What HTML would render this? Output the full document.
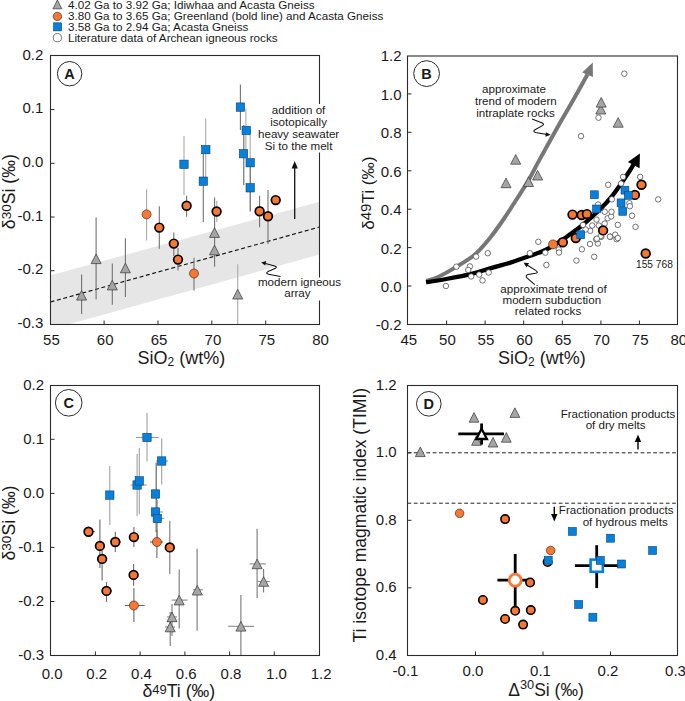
<!DOCTYPE html><html><head><meta charset="utf-8"><style>html,body{margin:0;padding:0;background:#fff;width:685px;height:701px;overflow:hidden}svg{display:block}text{font-family:"Liberation Sans",sans-serif;fill:#1a1a1a}</style></head><body>
<svg width="685" height="701" viewBox="0 0 685 701">
<polygon points="57.4,0.0 61.8,8.8 53.0,8.8" fill="#a5a5a5" stroke="#3c3c3c" stroke-width="0.75" stroke-linejoin="miter"/>
<circle cx="57.4" cy="16.4" r="4.2" fill="#F77733" stroke="#3a2418" stroke-width="0.65"/>
<rect x="53.5" y="22.8" width="8.1" height="8.1" fill="#0580DC" stroke="#0c3d66" stroke-width="0.55"/>
<circle cx="57.4" cy="37.7" r="4.1" fill="#fff" stroke="#3a3a3a" stroke-width="0.7"/>
<text x="68.0" y="8.8" font-size="11.68" text-anchor="start" >4.02 Ga to 3.92 Ga; Idiwhaa and Acasta Gneiss</text>
<text x="68.0" y="19.9" font-size="11.68" text-anchor="start" >3.80 Ga to 3.65 Ga; Greenland (bold line) and Acasta Gneiss</text>
<text x="68.0" y="30.9" font-size="11.68" text-anchor="start" >3.58 Ga to 2.94 Ga; Acasta Gneiss</text>
<text x="68.0" y="41.8" font-size="11.68" text-anchor="start" >Literature data of Archean igneous rocks</text>
<polygon points="50,275.5 319.5,201.8 319.5,254.5 68,324.5 50,324.5" fill="#e6e6e6"/>
<line x1="50.5" y1="302" x2="319.5" y2="227" stroke="#111" stroke-width="1.15" stroke-dasharray="4 2.6"/>
<line x1="81.6" y1="274.6" x2="81.6" y2="314.0" stroke="#727272" stroke-width="1.1"/>
<line x1="96.1" y1="217.3" x2="96.1" y2="299.5" stroke="#727272" stroke-width="1.1"/>
<line x1="112.3" y1="263.6" x2="112.3" y2="304.8" stroke="#727272" stroke-width="1.1"/>
<line x1="125.4" y1="238.3" x2="125.4" y2="296.9" stroke="#727272" stroke-width="1.1"/>
<line x1="214.6" y1="197.5" x2="214.6" y2="266.7" stroke="#727272" stroke-width="1.1"/>
<line x1="237.7" y1="264.3" x2="237.7" y2="324.0" stroke="#aaa" stroke-width="1.1"/>
<line x1="146.6" y1="189.2" x2="146.6" y2="240.4" stroke="#aaa" stroke-width="1.1"/>
<line x1="194.0" y1="257.8" x2="194.0" y2="290.4" stroke="#727272" stroke-width="1.1"/>
<line x1="159.3" y1="206.3" x2="159.3" y2="248.8" stroke="#727272" stroke-width="1.1"/>
<line x1="173.8" y1="232.5" x2="173.8" y2="256.0" stroke="#727272" stroke-width="1.1"/>
<line x1="178.0" y1="248.0" x2="178.0" y2="270.6" stroke="#727272" stroke-width="1.1"/>
<line x1="186.6" y1="195.8" x2="186.6" y2="216.8" stroke="#727272" stroke-width="1.1"/>
<line x1="216.8" y1="200.7" x2="216.8" y2="222.0" stroke="#aaa" stroke-width="1.1"/>
<line x1="259.6" y1="195.8" x2="259.6" y2="227.3" stroke="#727272" stroke-width="1.1"/>
<line x1="268.0" y1="190.0" x2="268.0" y2="244.0" stroke="#727272" stroke-width="1.1"/>
<line x1="184.0" y1="136.0" x2="184.0" y2="195.0" stroke="#aaa" stroke-width="1.1"/>
<line x1="205.7" y1="118.6" x2="205.7" y2="183.0" stroke="#aaa" stroke-width="1.1"/>
<line x1="203.3" y1="150.0" x2="203.3" y2="222.0" stroke="#727272" stroke-width="1.1"/>
<line x1="240.4" y1="84.5" x2="240.4" y2="130.0" stroke="#727272" stroke-width="1.1"/>
<line x1="245.9" y1="108.5" x2="245.9" y2="150.0" stroke="#aaa" stroke-width="1.1"/>
<line x1="243.8" y1="125.0" x2="243.8" y2="185.0" stroke="#666" stroke-width="1.1"/>
<line x1="250.2" y1="128.7" x2="250.2" y2="160.0" stroke="#aaa" stroke-width="1.1"/>
<line x1="250.2" y1="166.0" x2="250.2" y2="211.5" stroke="#555" stroke-width="1.1"/>
<polygon points="81.6,290.5 86.6,300.1 76.6,300.1" fill="#a5a5a5" stroke="#3c3c3c" stroke-width="0.75" stroke-linejoin="miter"/>
<polygon points="96.1,254.0 101.1,263.6 91.1,263.6" fill="#a5a5a5" stroke="#3c3c3c" stroke-width="0.75" stroke-linejoin="miter"/>
<polygon points="112.3,280.3 117.3,289.9 107.3,289.9" fill="#a5a5a5" stroke="#3c3c3c" stroke-width="0.75" stroke-linejoin="miter"/>
<polygon points="125.4,263.2 130.4,272.8 120.4,272.8" fill="#a5a5a5" stroke="#3c3c3c" stroke-width="0.75" stroke-linejoin="miter"/>
<polygon points="214.5,227.8 219.5,237.4 209.5,237.4" fill="#a5a5a5" stroke="#3c3c3c" stroke-width="0.75" stroke-linejoin="miter"/>
<polygon points="214.5,245.3 219.5,254.9 209.5,254.9" fill="#a5a5a5" stroke="#3c3c3c" stroke-width="0.75" stroke-linejoin="miter"/>
<polygon points="237.7,289.4 242.7,299.0 232.7,299.0" fill="#a5a5a5" stroke="#3c3c3c" stroke-width="0.75" stroke-linejoin="miter"/>
<circle cx="146.6" cy="214.4" r="4.5" fill="#F77733" stroke="#3a2418" stroke-width="0.65"/>
<circle cx="194.0" cy="273.5" r="4.5" fill="#F77733" stroke="#3a2418" stroke-width="0.65"/>
<circle cx="159.3" cy="227.6" r="4.35" fill="#F77733" stroke="#000" stroke-width="1.7"/>
<circle cx="173.8" cy="243.6" r="4.35" fill="#F77733" stroke="#000" stroke-width="1.7"/>
<circle cx="178.0" cy="259.6" r="4.35" fill="#F77733" stroke="#000" stroke-width="1.7"/>
<circle cx="186.6" cy="205.7" r="4.35" fill="#F77733" stroke="#000" stroke-width="1.7"/>
<circle cx="216.6" cy="211.5" r="4.35" fill="#F77733" stroke="#000" stroke-width="1.7"/>
<circle cx="259.6" cy="211.2" r="4.35" fill="#F77733" stroke="#000" stroke-width="1.7"/>
<circle cx="268.0" cy="216.3" r="4.35" fill="#F77733" stroke="#000" stroke-width="1.7"/>
<circle cx="275.7" cy="200.1" r="4.35" fill="#F77733" stroke="#000" stroke-width="1.7"/>
<rect x="179.8" y="160.1" width="8.4" height="8.4" fill="#0580DC" stroke="#0c3d66" stroke-width="0.55"/>
<rect x="201.6" y="145.4" width="8.4" height="8.4" fill="#0580DC" stroke="#0c3d66" stroke-width="0.55"/>
<rect x="199.1" y="177.0" width="8.4" height="8.4" fill="#0580DC" stroke="#0c3d66" stroke-width="0.55"/>
<rect x="236.2" y="102.9" width="8.4" height="8.4" fill="#0580DC" stroke="#0c3d66" stroke-width="0.55"/>
<rect x="242.0" y="126.2" width="8.4" height="8.4" fill="#0580DC" stroke="#0c3d66" stroke-width="0.55"/>
<rect x="239.3" y="149.5" width="8.4" height="8.4" fill="#0580DC" stroke="#0c3d66" stroke-width="0.55"/>
<rect x="246.0" y="158.5" width="8.4" height="8.4" fill="#0580DC" stroke="#0c3d66" stroke-width="0.55"/>
<rect x="246.0" y="183.6" width="8.4" height="8.4" fill="#0580DC" stroke="#0c3d66" stroke-width="0.55"/>
<path d="M264.5,263.3 L274.8,265.9 Q277.5,267 275.5,268.2 L268,271.6 Q265,273.5 268.5,274.2 L280.5,276.6" fill="none" stroke="#111" stroke-width="1.05" stroke-linejoin="round"/>
<polygon points="261.2,262.4 266.2,260.9 265.2,265.6" fill="#111"/>
<line x1="294.7" y1="166" x2="294.7" y2="219" stroke="#111" stroke-width="1.3"/>
<polygon points="294.7,161 291.6,168.5 297.8,168.5" fill="#111"/>
<rect x="50.5" y="55.5" width="269.0" height="269.0" fill="none" stroke="#2b2b2b" stroke-width="1.1"/>
<rect x="257" y="104" width="84" height="48.5" fill="#fff"/>
<rect x="257" y="277.5" width="85" height="23" fill="#fff"/>
<text x="298.6" y="113.9" font-size="11.6" text-anchor="middle" >addition of</text>
<text x="298.6" y="125.8" font-size="11.6" text-anchor="middle" >isotopically</text>
<text x="298.6" y="137.7" font-size="11.6" text-anchor="middle" >heavy seawater</text>
<text x="298.6" y="149.6" font-size="11.6" text-anchor="middle" >Si to the melt</text>
<text x="299.5" y="286.2" font-size="11.6" text-anchor="middle" >modern igneous</text>
<text x="297.4" y="297.4" font-size="11.6" text-anchor="middle" >array</text>
<line x1="50.5" y1="109.6" x2="54.5" y2="109.6" stroke="#2b2b2b" stroke-width="1"/>
<line x1="50.5" y1="163.3" x2="54.5" y2="163.3" stroke="#2b2b2b" stroke-width="1"/>
<line x1="50.5" y1="217.0" x2="54.5" y2="217.0" stroke="#2b2b2b" stroke-width="1"/>
<line x1="50.5" y1="270.7" x2="54.5" y2="270.7" stroke="#2b2b2b" stroke-width="1"/>
<line x1="104.1" y1="324.5" x2="104.1" y2="320.5" stroke="#2b2b2b" stroke-width="1"/>
<line x1="158.0" y1="324.5" x2="158.0" y2="320.5" stroke="#2b2b2b" stroke-width="1"/>
<line x1="211.8" y1="324.5" x2="211.8" y2="320.5" stroke="#2b2b2b" stroke-width="1"/>
<line x1="265.7" y1="324.5" x2="265.7" y2="320.5" stroke="#2b2b2b" stroke-width="1"/>
<text x="43.4" y="59.5" font-size="15" text-anchor="end" >0.2</text>
<text x="43.4" y="113.2" font-size="15" text-anchor="end" >0.1</text>
<text x="43.4" y="166.9" font-size="15" text-anchor="end" >0.0</text>
<text x="43.4" y="220.6" font-size="15" text-anchor="end" >-0.1</text>
<text x="43.4" y="274.3" font-size="15" text-anchor="end" >-0.2</text>
<text x="43.4" y="328.0" font-size="15" text-anchor="end" >-0.3</text>
<text x="51.4" y="345.0" font-size="15" text-anchor="middle" >55</text>
<text x="105.2" y="345.0" font-size="15" text-anchor="middle" >60</text>
<text x="159.1" y="345.0" font-size="15" text-anchor="middle" >65</text>
<text x="212.9" y="345.0" font-size="15" text-anchor="middle" >70</text>
<text x="266.8" y="345.0" font-size="15" text-anchor="middle" >75</text>
<text x="320.6" y="345.0" font-size="15" text-anchor="middle" >80</text>
<circle cx="69.6" cy="73.7" r="12.2" fill="#fff" stroke="#2b2b2b" stroke-width="1"/>
<text x="69.6" y="78.6" font-size="14.5" text-anchor="middle" font-weight="bold">A</text>
<text x="181.4" y="364.0" font-size="18" text-anchor="middle" >SiO<tspan font-size="12" dy="1.8">2</tspan><tspan dy="-1.8"> (wt%)</tspan></text>
<text transform="translate(15,191.7) rotate(-90)" font-size="17.7" text-anchor="middle">δ<tspan font-size="13.5" dy="-4">30</tspan><tspan dy="4">Si (‰)</tspan></text>
<path d="M426.5,281.0 C428.3,280.4 432.8,279.4 437.5,277.2 C442.2,275.0 448.9,271.3 455.0,267.6 C461.1,263.9 468.4,260.0 474.3,255.0 C480.2,250.0 485.1,243.9 490.1,237.8 C495.1,231.7 499.7,224.9 504.1,218.5 C508.5,212.1 512.7,205.5 516.6,199.3 C520.5,193.1 523.9,188.2 527.8,181.5 C531.7,174.8 535.2,167.6 540.0,158.9 C544.8,150.2 550.9,139.1 556.3,129.5 C561.7,119.9 567.7,109.7 572.4,101.4 C577.1,93.2 581.9,84.5 584.4,80.0 C586.9,75.5 587.0,75.4 587.5,74.5" fill="none" stroke="#777" stroke-width="4"/>
<polygon points="592.8,62.6 582.2,72.4 592.9,77.1" fill="#777"/>
<path d="M426.0,282.2 C429.4,281.7 438.5,280.4 446.3,279.0 C454.1,277.6 465.3,275.5 472.6,273.7 C479.9,271.9 483.7,270.2 490.0,268.4 C496.3,266.5 503.7,264.7 510.4,262.6 C517.1,260.5 524.2,257.9 530.0,255.8 C535.8,253.7 540.2,252.5 545.3,250.0 C550.4,247.5 556.4,243.7 560.7,241.0 C565.0,238.3 567.5,236.2 570.9,233.7 C574.3,231.2 577.7,228.9 581.1,226.2 C584.5,223.5 588.1,220.3 591.3,217.4 C594.5,214.5 597.1,212.2 600.5,208.8 C603.9,205.4 608.1,201.0 611.5,196.8 C614.9,192.6 618.1,187.9 621.1,183.6 C624.1,179.3 627.5,174.2 629.6,171.0 C631.7,167.8 632.9,165.6 633.5,164.5" fill="none" stroke="#000" stroke-width="4.3"/>
<polygon points="639.9,153.5 627.9,162.1 639.6,168.3" fill="#000"/>
<circle cx="445.9" cy="286.0" r="2.75" fill="#fff" stroke="#3a3a3a" stroke-width="0.7"/>
<circle cx="456.4" cy="266.7" r="2.75" fill="#fff" stroke="#3a3a3a" stroke-width="0.7"/>
<circle cx="469.9" cy="266.4" r="2.75" fill="#fff" stroke="#3a3a3a" stroke-width="0.7"/>
<circle cx="468.2" cy="269.9" r="2.75" fill="#fff" stroke="#3a3a3a" stroke-width="0.7"/>
<circle cx="471.2" cy="276.4" r="2.75" fill="#fff" stroke="#3a3a3a" stroke-width="0.7"/>
<circle cx="476.1" cy="256.6" r="2.75" fill="#fff" stroke="#3a3a3a" stroke-width="0.7"/>
<circle cx="479.2" cy="274.6" r="2.75" fill="#fff" stroke="#3a3a3a" stroke-width="0.7"/>
<circle cx="482.5" cy="280.4" r="2.75" fill="#fff" stroke="#3a3a3a" stroke-width="0.7"/>
<circle cx="488.7" cy="272.5" r="2.75" fill="#fff" stroke="#3a3a3a" stroke-width="0.7"/>
<circle cx="487.8" cy="253.2" r="2.75" fill="#fff" stroke="#3a3a3a" stroke-width="0.7"/>
<circle cx="529.8" cy="253.2" r="2.75" fill="#fff" stroke="#3a3a3a" stroke-width="0.7"/>
<circle cx="538.3" cy="241.8" r="2.75" fill="#fff" stroke="#3a3a3a" stroke-width="0.7"/>
<circle cx="545.3" cy="252.7" r="2.75" fill="#fff" stroke="#3a3a3a" stroke-width="0.7"/>
<circle cx="546.4" cy="265.0" r="2.75" fill="#fff" stroke="#3a3a3a" stroke-width="0.7"/>
<circle cx="558.8" cy="249.5" r="2.75" fill="#fff" stroke="#3a3a3a" stroke-width="0.7"/>
<circle cx="559.0" cy="252.5" r="2.75" fill="#fff" stroke="#3a3a3a" stroke-width="0.7"/>
<circle cx="576.4" cy="260.6" r="2.75" fill="#fff" stroke="#3a3a3a" stroke-width="0.7"/>
<circle cx="581.9" cy="249.3" r="2.75" fill="#fff" stroke="#3a3a3a" stroke-width="0.7"/>
<circle cx="594.2" cy="256.8" r="2.75" fill="#fff" stroke="#3a3a3a" stroke-width="0.7"/>
<circle cx="590.0" cy="244.0" r="2.75" fill="#fff" stroke="#3a3a3a" stroke-width="0.7"/>
<circle cx="597.8" cy="243.5" r="2.75" fill="#fff" stroke="#3a3a3a" stroke-width="0.7"/>
<circle cx="596.2" cy="239.4" r="2.75" fill="#fff" stroke="#3a3a3a" stroke-width="0.7"/>
<circle cx="601.3" cy="236.8" r="2.75" fill="#fff" stroke="#3a3a3a" stroke-width="0.7"/>
<circle cx="610.5" cy="236.8" r="2.75" fill="#fff" stroke="#3a3a3a" stroke-width="0.7"/>
<circle cx="616.6" cy="239.2" r="2.75" fill="#fff" stroke="#3a3a3a" stroke-width="0.7"/>
<circle cx="615.2" cy="234.7" r="2.75" fill="#fff" stroke="#3a3a3a" stroke-width="0.7"/>
<circle cx="617.8" cy="238.0" r="2.75" fill="#fff" stroke="#3a3a3a" stroke-width="0.7"/>
<circle cx="609.9" cy="236.7" r="2.75" fill="#fff" stroke="#3a3a3a" stroke-width="0.7"/>
<circle cx="600.7" cy="236.1" r="2.75" fill="#fff" stroke="#3a3a3a" stroke-width="0.7"/>
<circle cx="596.8" cy="238.7" r="2.75" fill="#fff" stroke="#3a3a3a" stroke-width="0.7"/>
<circle cx="590.2" cy="230.8" r="2.75" fill="#fff" stroke="#3a3a3a" stroke-width="0.7"/>
<circle cx="585.6" cy="229.5" r="2.75" fill="#fff" stroke="#3a3a3a" stroke-width="0.7"/>
<circle cx="592.2" cy="225.5" r="2.75" fill="#fff" stroke="#3a3a3a" stroke-width="0.7"/>
<circle cx="598.8" cy="225.5" r="2.75" fill="#fff" stroke="#3a3a3a" stroke-width="0.7"/>
<circle cx="604.7" cy="223.6" r="2.75" fill="#fff" stroke="#3a3a3a" stroke-width="0.7"/>
<circle cx="583.0" cy="224.9" r="2.75" fill="#fff" stroke="#3a3a3a" stroke-width="0.7"/>
<circle cx="617.8" cy="224.9" r="2.75" fill="#fff" stroke="#3a3a3a" stroke-width="0.7"/>
<circle cx="635.5" cy="226.9" r="2.75" fill="#fff" stroke="#3a3a3a" stroke-width="0.7"/>
<circle cx="596.5" cy="219.6" r="2.75" fill="#fff" stroke="#3a3a3a" stroke-width="0.7"/>
<circle cx="607.6" cy="218.3" r="2.75" fill="#fff" stroke="#3a3a3a" stroke-width="0.7"/>
<circle cx="611.2" cy="216.4" r="2.75" fill="#fff" stroke="#3a3a3a" stroke-width="0.7"/>
<circle cx="604.7" cy="211.8" r="2.75" fill="#fff" stroke="#3a3a3a" stroke-width="0.7"/>
<circle cx="611.5" cy="211.8" r="2.75" fill="#fff" stroke="#3a3a3a" stroke-width="0.7"/>
<circle cx="632.0" cy="215.7" r="2.75" fill="#fff" stroke="#3a3a3a" stroke-width="0.7"/>
<circle cx="598.1" cy="204.5" r="2.75" fill="#fff" stroke="#3a3a3a" stroke-width="0.7"/>
<circle cx="629.4" cy="203.2" r="2.75" fill="#fff" stroke="#3a3a3a" stroke-width="0.7"/>
<circle cx="629.9" cy="206.2" r="2.75" fill="#fff" stroke="#3a3a3a" stroke-width="0.7"/>
<circle cx="611.9" cy="199.3" r="2.75" fill="#fff" stroke="#3a3a3a" stroke-width="0.7"/>
<circle cx="658.2" cy="199.4" r="2.75" fill="#fff" stroke="#3a3a3a" stroke-width="0.7"/>
<circle cx="608.2" cy="184.8" r="2.75" fill="#fff" stroke="#3a3a3a" stroke-width="0.7"/>
<circle cx="621.1" cy="183.5" r="2.75" fill="#fff" stroke="#3a3a3a" stroke-width="0.7"/>
<circle cx="623.1" cy="176.9" r="2.75" fill="#fff" stroke="#3a3a3a" stroke-width="0.7"/>
<circle cx="640.1" cy="176.9" r="2.75" fill="#fff" stroke="#3a3a3a" stroke-width="0.7"/>
<circle cx="624.3" cy="73.7" r="2.75" fill="#fff" stroke="#3a3a3a" stroke-width="0.7"/>
<circle cx="598.5" cy="117.7" r="2.75" fill="#fff" stroke="#3a3a3a" stroke-width="0.7"/>
<circle cx="581.0" cy="136.1" r="2.75" fill="#fff" stroke="#3a3a3a" stroke-width="0.7"/>
<polygon points="515.7,154.6 520.7,164.2 510.7,164.2" fill="#a5a5a5" stroke="#3c3c3c" stroke-width="0.75" stroke-linejoin="miter"/>
<polygon points="506.0,178.1 511.0,187.7 501.0,187.7" fill="#a5a5a5" stroke="#3c3c3c" stroke-width="0.75" stroke-linejoin="miter"/>
<polygon points="528.5,176.9 533.5,186.5 523.5,186.5" fill="#a5a5a5" stroke="#3c3c3c" stroke-width="0.75" stroke-linejoin="miter"/>
<polygon points="537.6,170.4 542.6,180.0 532.6,180.0" fill="#a5a5a5" stroke="#3c3c3c" stroke-width="0.75" stroke-linejoin="miter"/>
<polygon points="600.8,104.4 605.8,114.0 595.8,114.0" fill="#a5a5a5" stroke="#3c3c3c" stroke-width="0.75" stroke-linejoin="miter"/>
<polygon points="601.2,97.5 606.2,107.1 596.2,107.1" fill="#a5a5a5" stroke="#3c3c3c" stroke-width="0.75" stroke-linejoin="miter"/>
<polygon points="618.2,117.6 623.2,127.2 613.2,127.2" fill="#a5a5a5" stroke="#3c3c3c" stroke-width="0.75" stroke-linejoin="miter"/>
<circle cx="553.0" cy="244.4" r="4.5" fill="#F77733" stroke="#3a2418" stroke-width="0.65"/>
<circle cx="562.8" cy="242.2" r="4.35" fill="#F77733" stroke="#000" stroke-width="1.7"/>
<circle cx="575.8" cy="238.1" r="4.35" fill="#F77733" stroke="#000" stroke-width="1.7"/>
<circle cx="572.5" cy="214.6" r="4.35" fill="#F77733" stroke="#000" stroke-width="1.7"/>
<circle cx="581.7" cy="215.0" r="4.35" fill="#F77733" stroke="#000" stroke-width="1.7"/>
<circle cx="586.9" cy="214.1" r="4.35" fill="#F77733" stroke="#000" stroke-width="1.7"/>
<circle cx="641.5" cy="184.8" r="4.35" fill="#F77733" stroke="#000" stroke-width="1.7"/>
<circle cx="634.9" cy="194.9" r="4.35" fill="#F77733" stroke="#000" stroke-width="1.7"/>
<circle cx="603.1" cy="230.4" r="4.35" fill="#F77733" stroke="#000" stroke-width="1.7"/>
<circle cx="645.7" cy="253.5" r="4.35" fill="#F77733" stroke="#000" stroke-width="1.7"/>
<rect x="590.4" y="190.8" width="7.9" height="7.9" fill="#0580DC" stroke="#0c3d66" stroke-width="0.55"/>
<rect x="592.5" y="205.0" width="7.9" height="7.9" fill="#0580DC" stroke="#0c3d66" stroke-width="0.55"/>
<rect x="621.0" y="186.2" width="7.9" height="7.9" fill="#0580DC" stroke="#0c3d66" stroke-width="0.55"/>
<rect x="624.3" y="191.4" width="7.9" height="7.9" fill="#0580DC" stroke="#0c3d66" stroke-width="0.55"/>
<rect x="617.1" y="198.9" width="7.9" height="7.9" fill="#0580DC" stroke="#0c3d66" stroke-width="0.55"/>
<rect x="618.8" y="207.4" width="7.9" height="7.9" fill="#0580DC" stroke="#0c3d66" stroke-width="0.55"/>
<rect x="576.8" y="230.8" width="7.9" height="7.9" fill="#0580DC" stroke="#0c3d66" stroke-width="0.55"/>
<text x="654.4" y="268.3" font-size="10.2" text-anchor="middle" >155 768</text>
<path d="M532,119.1 L542.3,123 Q544.6,124.3 542.4,125.6 L535,129.8 Q532.3,131.6 535.6,132.4 L547,134.4" fill="none" stroke="#111" stroke-width="1.05" stroke-linejoin="round"/>
<polygon points="550.6,134.7 545.9,132.2 545.4,136.8" fill="#111"/>
<path d="M526,264.3 L536,270.6 Q538.8,272.6 535.6,273.3 L528,274.6 Q524.8,275.6 527.2,278.2 L534.8,284.6" fill="none" stroke="#111" stroke-width="1.05" stroke-linejoin="round"/>
<polygon points="523.6,262.8 529,263.1 526.6,267.6" fill="#111"/>
<text x="514.0" y="93.1" font-size="11.6" text-anchor="middle" >approximate</text>
<text x="515.9" y="104.8" font-size="11.6" text-anchor="middle" >trend of modern</text>
<text x="515.5" y="116.5" font-size="11.6" text-anchor="middle" >intraplate rocks</text>
<text x="553.5" y="292.8" font-size="11.6" text-anchor="middle" >approximate trend of</text>
<text x="551.8" y="304.1" font-size="11.6" text-anchor="middle" >modern subduction</text>
<text x="548.0" y="315.4" font-size="11.6" text-anchor="middle" >related rocks</text>
<rect x="407.5" y="56" width="270.0" height="268.5" fill="none" stroke="#2b2b2b" stroke-width="1.1"/>
<line x1="407.5" y1="93.9" x2="411.5" y2="93.9" stroke="#2b2b2b" stroke-width="1"/>
<line x1="407.5" y1="132.3" x2="411.5" y2="132.3" stroke="#2b2b2b" stroke-width="1"/>
<line x1="407.5" y1="170.8" x2="411.5" y2="170.8" stroke="#2b2b2b" stroke-width="1"/>
<line x1="407.5" y1="209.2" x2="411.5" y2="209.2" stroke="#2b2b2b" stroke-width="1"/>
<line x1="407.5" y1="247.6" x2="411.5" y2="247.6" stroke="#2b2b2b" stroke-width="1"/>
<line x1="407.5" y1="286.0" x2="411.5" y2="286.0" stroke="#2b2b2b" stroke-width="1"/>
<line x1="446.6" y1="324.5" x2="446.6" y2="320.5" stroke="#2b2b2b" stroke-width="1"/>
<line x1="485.1" y1="324.5" x2="485.1" y2="320.5" stroke="#2b2b2b" stroke-width="1"/>
<line x1="523.7" y1="324.5" x2="523.7" y2="320.5" stroke="#2b2b2b" stroke-width="1"/>
<line x1="562.3" y1="324.5" x2="562.3" y2="320.5" stroke="#2b2b2b" stroke-width="1"/>
<line x1="600.9" y1="324.5" x2="600.9" y2="320.5" stroke="#2b2b2b" stroke-width="1"/>
<line x1="639.4" y1="324.5" x2="639.4" y2="320.5" stroke="#2b2b2b" stroke-width="1"/>
<text x="401.6" y="61.4" font-size="15" text-anchor="end" >1.2</text>
<text x="401.6" y="99.8" font-size="15" text-anchor="end" >1.0</text>
<text x="401.6" y="138.2" font-size="15" text-anchor="end" >0.8</text>
<text x="401.6" y="176.7" font-size="15" text-anchor="end" >0.6</text>
<text x="401.6" y="215.1" font-size="15" text-anchor="end" >0.4</text>
<text x="401.6" y="253.5" font-size="15" text-anchor="end" >0.2</text>
<text x="401.6" y="291.9" font-size="15" text-anchor="end" >0.0</text>
<text x="401.6" y="330.3" font-size="15" text-anchor="end" >-0.2</text>
<text x="408.8" y="345.0" font-size="15" text-anchor="middle" >45</text>
<text x="447.4" y="345.0" font-size="15" text-anchor="middle" >50</text>
<text x="485.9" y="345.0" font-size="15" text-anchor="middle" >55</text>
<text x="524.5" y="345.0" font-size="15" text-anchor="middle" >60</text>
<text x="563.1" y="345.0" font-size="15" text-anchor="middle" >65</text>
<text x="601.6" y="345.0" font-size="15" text-anchor="middle" >70</text>
<text x="640.2" y="345.0" font-size="15" text-anchor="middle" >75</text>
<text x="678.8" y="345.0" font-size="15" text-anchor="middle" >80</text>
<circle cx="426.6" cy="73.6" r="12.9" fill="#fff" stroke="#2b2b2b" stroke-width="1"/>
<text x="426.6" y="78.5" font-size="14.5" text-anchor="middle" font-weight="bold">B</text>
<text x="541.8" y="364.0" font-size="18" text-anchor="middle" >SiO<tspan font-size="12" dy="1.8">2</tspan><tspan dy="-1.8"> (wt%)</tspan></text>
<text transform="translate(374.2,193.2) rotate(-90)" font-size="17.2" text-anchor="middle">δ<tspan dy="-3" font-size="15">49</tspan><tspan dy="3">Ti (‰)</tspan></text>
<line x1="147.0" y1="413.0" x2="147.0" y2="461.6" stroke="#a0a0a0" stroke-width="1.1"/>
<line x1="161.7" y1="438.6" x2="161.7" y2="484.6" stroke="#a0a0a0" stroke-width="1.1"/>
<line x1="109.8" y1="466.0" x2="109.8" y2="525.0" stroke="#a0a0a0" stroke-width="1.1"/>
<line x1="139.3" y1="448.0" x2="139.3" y2="514.2" stroke="#a0a0a0" stroke-width="1.1"/>
<line x1="137.1" y1="454.0" x2="137.1" y2="516.3" stroke="#a0a0a0" stroke-width="1.1"/>
<line x1="157.3" y1="500.0" x2="157.3" y2="540.0" stroke="#a0a0a0" stroke-width="1.1"/>
<line x1="99.9" y1="519.6" x2="99.9" y2="568.0" stroke="#6a6a6a" stroke-width="1.1"/>
<line x1="115.3" y1="531.7" x2="115.3" y2="552.0" stroke="#6a6a6a" stroke-width="1.1"/>
<line x1="133.9" y1="527.0" x2="133.9" y2="547.0" stroke="#6a6a6a" stroke-width="1.1"/>
<line x1="169.8" y1="520.7" x2="169.8" y2="574.0" stroke="#777" stroke-width="1.1"/>
<line x1="102.1" y1="548.0" x2="102.1" y2="580.4" stroke="#6a6a6a" stroke-width="1.1"/>
<line x1="133.6" y1="564.0" x2="133.6" y2="585.8" stroke="#6a6a6a" stroke-width="1.1"/>
<line x1="106.5" y1="582.0" x2="106.5" y2="602.0" stroke="#6a6a6a" stroke-width="1.1"/>
<line x1="133.9" y1="588.0" x2="133.9" y2="622.0" stroke="#6a6a6a" stroke-width="1.1"/>
<line x1="156.9" y1="530.0" x2="156.9" y2="558.0" stroke="#6a6a6a" stroke-width="1.1"/>
<line x1="179.2" y1="569.4" x2="179.2" y2="628.5" stroke="#777" stroke-width="1.1"/>
<line x1="172.0" y1="604.0" x2="172.0" y2="636.0" stroke="#777" stroke-width="1.1"/>
<line x1="170.2" y1="612.0" x2="170.2" y2="646.0" stroke="#777" stroke-width="1.1"/>
<line x1="197.1" y1="548.6" x2="197.1" y2="630.7" stroke="#777" stroke-width="1.1"/>
<line x1="240.9" y1="595.0" x2="240.9" y2="655.5" stroke="#777" stroke-width="1.1"/>
<line x1="257.1" y1="528.7" x2="257.1" y2="597.9" stroke="#777" stroke-width="1.1"/>
<line x1="263.6" y1="569.0" x2="263.6" y2="592.4" stroke="#777" stroke-width="1.1"/>
<line x1="136.0" y1="437.5" x2="158.8" y2="437.5" stroke="#999" stroke-width="1.1"/>
<line x1="156.0" y1="461.0" x2="168.0" y2="461.0" stroke="#999" stroke-width="1.1"/>
<line x1="152.0" y1="512.0" x2="163.0" y2="512.0" stroke="#999" stroke-width="1.1"/>
<line x1="153.0" y1="518.5" x2="164.3" y2="518.5" stroke="#999" stroke-width="1.1"/>
<line x1="130.6" y1="485.0" x2="146.8" y2="485.0" stroke="#999" stroke-width="1.1"/>
<line x1="84.0" y1="531.7" x2="95.0" y2="531.7" stroke="#6a6a6a" stroke-width="1.1"/>
<line x1="110.0" y1="542.0" x2="121.0" y2="542.0" stroke="#6a6a6a" stroke-width="1.1"/>
<line x1="129.0" y1="537.1" x2="139.0" y2="537.1" stroke="#6a6a6a" stroke-width="1.1"/>
<line x1="124.9" y1="605.5" x2="144.6" y2="605.5" stroke="#6a6a6a" stroke-width="1.1"/>
<line x1="102.0" y1="590.9" x2="112.0" y2="590.9" stroke="#6a6a6a" stroke-width="1.1"/>
<line x1="129.0" y1="574.9" x2="138.0" y2="574.9" stroke="#6a6a6a" stroke-width="1.1"/>
<line x1="150.0" y1="542.0" x2="163.0" y2="542.0" stroke="#6a6a6a" stroke-width="1.1"/>
<line x1="171.5" y1="600.1" x2="187.5" y2="600.1" stroke="#888" stroke-width="1.1"/>
<line x1="167.0" y1="616.9" x2="177.0" y2="616.9" stroke="#888" stroke-width="1.1"/>
<line x1="165.0" y1="627.0" x2="175.0" y2="627.0" stroke="#888" stroke-width="1.1"/>
<line x1="193.0" y1="589.8" x2="203.0" y2="589.8" stroke="#888" stroke-width="1.1"/>
<line x1="228.2" y1="626.3" x2="254.0" y2="626.3" stroke="#888" stroke-width="1.1"/>
<line x1="249.6" y1="563.9" x2="265.8" y2="563.9" stroke="#888" stroke-width="1.1"/>
<line x1="257.7" y1="581.5" x2="269.8" y2="581.5" stroke="#888" stroke-width="1.1"/>
<line x1="156.2" y1="462.5" x2="156.2" y2="532.0" stroke="#666" stroke-width="1.2"/>
<polygon points="179.2,595.3 184.2,604.9 174.2,604.9" fill="#a5a5a5" stroke="#3c3c3c" stroke-width="0.75" stroke-linejoin="miter"/>
<polygon points="172.0,612.1 177.0,621.7 167.0,621.7" fill="#a5a5a5" stroke="#3c3c3c" stroke-width="0.75" stroke-linejoin="miter"/>
<polygon points="170.2,622.2 175.2,631.8 165.2,631.8" fill="#a5a5a5" stroke="#3c3c3c" stroke-width="0.75" stroke-linejoin="miter"/>
<polygon points="197.3,585.4 202.3,595.0 192.3,595.0" fill="#a5a5a5" stroke="#3c3c3c" stroke-width="0.75" stroke-linejoin="miter"/>
<polygon points="240.9,621.5 245.9,631.1 235.9,631.1" fill="#a5a5a5" stroke="#3c3c3c" stroke-width="0.75" stroke-linejoin="miter"/>
<polygon points="257.1,559.1 262.1,568.7 252.1,568.7" fill="#a5a5a5" stroke="#3c3c3c" stroke-width="0.75" stroke-linejoin="miter"/>
<polygon points="263.6,576.7 268.6,586.3 258.6,586.3" fill="#a5a5a5" stroke="#3c3c3c" stroke-width="0.75" stroke-linejoin="miter"/>
<circle cx="156.9" cy="542.0" r="4.5" fill="#F77733" stroke="#3a2418" stroke-width="0.65"/>
<circle cx="133.9" cy="605.5" r="4.5" fill="#F77733" stroke="#3a2418" stroke-width="0.65"/>
<circle cx="88.5" cy="531.7" r="4.35" fill="#F77733" stroke="#000" stroke-width="1.7"/>
<circle cx="99.9" cy="545.9" r="4.35" fill="#F77733" stroke="#000" stroke-width="1.7"/>
<circle cx="115.3" cy="542.0" r="4.35" fill="#F77733" stroke="#000" stroke-width="1.7"/>
<circle cx="133.9" cy="537.1" r="4.35" fill="#F77733" stroke="#000" stroke-width="1.7"/>
<circle cx="169.8" cy="547.4" r="4.35" fill="#F77733" stroke="#000" stroke-width="1.7"/>
<circle cx="102.1" cy="558.9" r="4.35" fill="#F77733" stroke="#000" stroke-width="1.7"/>
<circle cx="133.6" cy="574.9" r="4.35" fill="#F77733" stroke="#000" stroke-width="1.7"/>
<circle cx="106.5" cy="590.9" r="4.35" fill="#F77733" stroke="#000" stroke-width="1.7"/>
<rect x="142.8" y="433.3" width="8.4" height="8.4" fill="#0580DC" stroke="#0c3d66" stroke-width="0.55"/>
<rect x="157.5" y="456.8" width="8.4" height="8.4" fill="#0580DC" stroke="#0c3d66" stroke-width="0.55"/>
<rect x="105.6" y="490.9" width="8.4" height="8.4" fill="#0580DC" stroke="#0c3d66" stroke-width="0.55"/>
<rect x="132.9" y="480.8" width="8.4" height="8.4" fill="#0580DC" stroke="#0c3d66" stroke-width="0.55"/>
<rect x="135.1" y="476.7" width="8.4" height="8.4" fill="#0580DC" stroke="#0c3d66" stroke-width="0.55"/>
<rect x="151.3" y="489.8" width="8.4" height="8.4" fill="#0580DC" stroke="#0c3d66" stroke-width="0.55"/>
<rect x="151.3" y="507.8" width="8.4" height="8.4" fill="#0580DC" stroke="#0c3d66" stroke-width="0.55"/>
<rect x="153.1" y="514.3" width="8.4" height="8.4" fill="#0580DC" stroke="#0c3d66" stroke-width="0.55"/>
<rect x="50.5" y="385.5" width="269.0" height="270.0" fill="none" stroke="#2b2b2b" stroke-width="1.1"/>
<line x1="50.5" y1="439.3" x2="54.5" y2="439.3" stroke="#2b2b2b" stroke-width="1"/>
<line x1="50.5" y1="493.4" x2="54.5" y2="493.4" stroke="#2b2b2b" stroke-width="1"/>
<line x1="50.5" y1="547.4" x2="54.5" y2="547.4" stroke="#2b2b2b" stroke-width="1"/>
<line x1="50.5" y1="601.5" x2="54.5" y2="601.5" stroke="#2b2b2b" stroke-width="1"/>
<line x1="95.4" y1="655.5" x2="95.4" y2="651.5" stroke="#2b2b2b" stroke-width="1"/>
<line x1="140.1" y1="655.5" x2="140.1" y2="651.5" stroke="#2b2b2b" stroke-width="1"/>
<line x1="184.9" y1="655.5" x2="184.9" y2="651.5" stroke="#2b2b2b" stroke-width="1"/>
<line x1="229.6" y1="655.5" x2="229.6" y2="651.5" stroke="#2b2b2b" stroke-width="1"/>
<line x1="274.3" y1="655.5" x2="274.3" y2="651.5" stroke="#2b2b2b" stroke-width="1"/>
<text x="44.0" y="390.1" font-size="15" text-anchor="end" >0.2</text>
<text x="44.0" y="444.1" font-size="15" text-anchor="end" >0.1</text>
<text x="44.0" y="498.2" font-size="15" text-anchor="end" >0.0</text>
<text x="44.0" y="552.2" font-size="15" text-anchor="end" >-0.1</text>
<text x="44.0" y="606.3" font-size="15" text-anchor="end" >-0.2</text>
<text x="44.0" y="660.3" font-size="15" text-anchor="end" >-0.3</text>
<text x="52.1" y="679.0" font-size="15" text-anchor="middle" >0.0</text>
<text x="96.8" y="679.0" font-size="15" text-anchor="middle" >0.2</text>
<text x="141.5" y="679.0" font-size="15" text-anchor="middle" >0.4</text>
<text x="186.3" y="679.0" font-size="15" text-anchor="middle" >0.6</text>
<text x="231.0" y="679.0" font-size="15" text-anchor="middle" >0.8</text>
<text x="276.5" y="679.0" font-size="15" text-anchor="middle" >1.0</text>
<text x="321.2" y="679.0" font-size="15" text-anchor="middle" >1.2</text>
<circle cx="68.7" cy="402.8" r="13.3" fill="#fff" stroke="#2b2b2b" stroke-width="1"/>
<text x="68.7" y="407.7" font-size="14.5" text-anchor="middle" font-weight="bold">C</text>
<text x="178.8" y="697.2" font-size="17.7" text-anchor="middle" >δ<tspan font-size="13" dy="-3.7">49</tspan><tspan dy="3.7">Ti (‰)</tspan></text>
<text transform="translate(15.4,523) rotate(-90)" font-size="17.7" text-anchor="middle">δ<tspan font-size="13.5" dy="-4">30</tspan><tspan dy="4">Si (‰)</tspan></text>
<line x1="407.5" y1="452.8" x2="677.5" y2="452.8" stroke="#222" stroke-width="1" stroke-dasharray="3.8 2.5"/>
<line x1="407.5" y1="503.2" x2="677.5" y2="503.2" stroke="#222" stroke-width="1" stroke-dasharray="3.8 2.5"/>
<polygon points="420.3,447.0 425.2,456.6 415.4,456.6" fill="#a5a5a5" stroke="#3c3c3c" stroke-width="0.75" stroke-linejoin="miter"/>
<polygon points="474.0,412.6 478.9,422.2 469.1,422.2" fill="#a5a5a5" stroke="#3c3c3c" stroke-width="0.75" stroke-linejoin="miter"/>
<polygon points="476.5,435.7 481.4,445.3 471.6,445.3" fill="#a5a5a5" stroke="#3c3c3c" stroke-width="0.75" stroke-linejoin="miter"/>
<polygon points="493.0,437.4 497.9,447.0 488.1,447.0" fill="#a5a5a5" stroke="#3c3c3c" stroke-width="0.75" stroke-linejoin="miter"/>
<polygon points="506.3,432.6 511.2,442.2 501.4,442.2" fill="#a5a5a5" stroke="#3c3c3c" stroke-width="0.75" stroke-linejoin="miter"/>
<polygon points="514.9,407.8 519.8,417.4 510.0,417.4" fill="#a5a5a5" stroke="#3c3c3c" stroke-width="0.75" stroke-linejoin="miter"/>
<line x1="458.3" y1="433.8" x2="504.0" y2="433.8" stroke="#000" stroke-width="2.8"/>
<line x1="481.6" y1="423.5" x2="481.6" y2="444.6" stroke="#000" stroke-width="2.8"/>
<polygon points="481.6,428.8 486.9,439 476.3,439" fill="#fff" stroke="#000" stroke-width="2.3" stroke-linejoin="miter"/>
<circle cx="459.6" cy="513.3" r="4.3" fill="#F77733" stroke="#3a2418" stroke-width="0.65"/>
<circle cx="505.1" cy="519.1" r="4.2" fill="#F77733" stroke="#000" stroke-width="1.6"/>
<circle cx="550.7" cy="550.5" r="4.3" fill="#F77733" stroke="#3a2418" stroke-width="0.65"/>
<circle cx="547.6" cy="562" r="4.2" fill="#F77733" stroke="#000" stroke-width="1.6"/>
<rect x="544.2" y="556.2" width="8" height="8" fill="#0580DC" stroke="#0c3d66" stroke-width="0.55"/>
<line x1="497.4" y1="580.2" x2="533.0" y2="580.2" stroke="#000" stroke-width="2.8"/>
<line x1="515.2" y1="554.0" x2="515.2" y2="607.7" stroke="#000" stroke-width="2.8"/>
<circle cx="530.1" cy="582.5" r="4.2" fill="#F77733" stroke="#000" stroke-width="1.6"/>
<circle cx="482.9" cy="600" r="4.2" fill="#F77733" stroke="#000" stroke-width="1.6"/>
<circle cx="515.2" cy="610.8" r="4.2" fill="#F77733" stroke="#000" stroke-width="1.6"/>
<circle cx="530.8" cy="610.1" r="4.2" fill="#F77733" stroke="#000" stroke-width="1.6"/>
<circle cx="505.1" cy="619" r="4.2" fill="#F77733" stroke="#000" stroke-width="1.6"/>
<circle cx="523.1" cy="624.6" r="4.2" fill="#F77733" stroke="#000" stroke-width="1.6"/>
<circle cx="515.2" cy="580.2" r="6" fill="#fff" stroke="#F77733" stroke-width="2.8"/>
<line x1="574.9" y1="565.7" x2="618.3" y2="565.7" stroke="#000" stroke-width="2.8"/>
<line x1="596.7" y1="545.2" x2="596.7" y2="588.0" stroke="#000" stroke-width="2.8"/>
<rect x="568.4" y="527.4" width="8" height="8" fill="#0580DC" stroke="#0c3d66" stroke-width="0.55"/>
<rect x="606.5" y="534.2" width="8" height="8" fill="#0580DC" stroke="#0c3d66" stroke-width="0.55"/>
<rect x="648.6" y="546.5" width="8" height="8" fill="#0580DC" stroke="#0c3d66" stroke-width="0.55"/>
<rect x="617.5" y="560.0" width="8" height="8" fill="#0580DC" stroke="#0c3d66" stroke-width="0.55"/>
<rect x="574.7" y="600.5" width="8" height="8" fill="#0580DC" stroke="#0c3d66" stroke-width="0.55"/>
<rect x="588.9" y="613.2" width="8" height="8" fill="#0580DC" stroke="#0c3d66" stroke-width="0.55"/>
<rect x="590.6" y="559.6" width="12.2" height="12.2" fill="#fff" stroke="#0580DC" stroke-width="2.6"/>
<rect x="596.3" y="556.4" width="8" height="8" fill="#0580DC" stroke="#0c3d66" stroke-width="0.55"/>
<line x1="638" y1="449.5" x2="638" y2="440" stroke="#000" stroke-width="1.4"/>
<polygon points="638,434.5 634.8,442 641.2,442" fill="#000"/>
<line x1="554.3" y1="506.8" x2="554.3" y2="516" stroke="#000" stroke-width="1.4"/>
<polygon points="554.3,521.5 551.1,514 557.5,514" fill="#000"/>
<text x="618.0" y="417.6" font-size="11.6" text-anchor="middle" >Fractionation products</text>
<text x="615.6" y="429.3" font-size="11.6" text-anchor="middle" >of dry melts</text>
<text x="616.2" y="513.9" font-size="11.6" text-anchor="middle" >Fractionation products</text>
<text x="625.2" y="525.5" font-size="11.6" text-anchor="middle" >of hydrous melts</text>
<rect x="407.5" y="385.5" width="270.0" height="270.0" fill="none" stroke="#2b2b2b" stroke-width="1.1"/>
<line x1="407.5" y1="452.8" x2="411.5" y2="452.8" stroke="#2b2b2b" stroke-width="1"/>
<line x1="407.5" y1="520.3" x2="411.5" y2="520.3" stroke="#2b2b2b" stroke-width="1"/>
<line x1="407.5" y1="587.8" x2="411.5" y2="587.8" stroke="#2b2b2b" stroke-width="1"/>
<line x1="475.5" y1="655.5" x2="475.5" y2="651.5" stroke="#2b2b2b" stroke-width="1"/>
<line x1="543.0" y1="655.5" x2="543.0" y2="651.5" stroke="#2b2b2b" stroke-width="1"/>
<line x1="610.5" y1="655.5" x2="610.5" y2="651.5" stroke="#2b2b2b" stroke-width="1"/>
<text x="396.7" y="389.9" font-size="15" text-anchor="end" >1.2</text>
<text x="396.7" y="457.4" font-size="15" text-anchor="end" >1.0</text>
<text x="396.7" y="524.9" font-size="15" text-anchor="end" >0.8</text>
<text x="396.7" y="592.4" font-size="15" text-anchor="end" >0.6</text>
<text x="396.7" y="659.9" font-size="15" text-anchor="end" >0.4</text>
<text x="405.5" y="675.8" font-size="15" text-anchor="middle" >-0.1</text>
<text x="473.0" y="675.8" font-size="15" text-anchor="middle" >0.0</text>
<text x="540.5" y="675.8" font-size="15" text-anchor="middle" >0.1</text>
<text x="608.0" y="675.8" font-size="15" text-anchor="middle" >0.2</text>
<text x="675.5" y="675.8" font-size="15" text-anchor="middle" >0.3</text>
<circle cx="428.8" cy="403.8" r="12.3" fill="#fff" stroke="#2b2b2b" stroke-width="1"/>
<text x="428.8" y="408.7" font-size="14.5" text-anchor="middle" font-weight="bold">D</text>
<text x="546.0" y="695.6" font-size="17.5" text-anchor="middle" >Δ<tspan font-size="12.8" dy="-6.6">30</tspan><tspan dy="6.6">Si (‰)</tspan></text>
<text transform="translate(365.5,515.2) rotate(-90)" font-size="17.55" text-anchor="middle">Ti isotope magmatic index (TIMI)</text>
</svg></body></html>
